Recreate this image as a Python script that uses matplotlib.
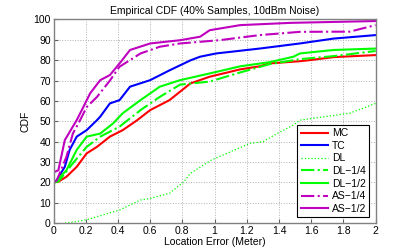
import matplotlib
matplotlib.use("Agg")
import matplotlib.pyplot as plt

plt.rcParams['font.family'] = ['Liberation Sans', 'DejaVu Sans']

# (x in meters, y in percent)
mc_x = [0, 0.03, 0.08, 0.144, 0.206, 0.27, 0.35, 0.43, 0.52, 0.6, 0.72, 0.85, 0.97, 1.16, 1.28, 1.34, 1.53, 1.59, 1.74, 2.0]
mc_y = [20, 20.4, 22.8, 27.7, 34.3, 37.5, 42.5, 45.7, 50.6, 55.5, 60.4, 68.6, 71.9, 75.5, 77, 78.4, 79.5, 80, 81.5, 82.5]

tc_x = [0, 0.02, 0.07, 0.1, 0.144, 0.206, 0.27, 0.29, 0.35, 0.41, 0.475, 0.6, 0.72, 0.85, 0.91, 1.01, 1.28, 1.53, 1.74, 2.0]
tc_y = [20, 21.2, 27.7, 36, 42.5, 45.7, 50.6, 52.3, 58.8, 60.4, 67, 70.2, 75, 79.9, 81.7, 83.3, 85.7, 88.2, 90.6, 92.3]

dl_x = [0.07, 0.2, 0.41, 0.54, 0.6, 0.72, 0.81, 0.85, 0.98, 1.1, 1.22, 1.3, 1.39, 1.49, 1.53, 1.84, 2.0]
dl_y = [0, 1.6, 6.5, 11.4, 12.2, 14.7, 20.4, 24.5, 31, 35.1, 39.2, 40, 44.1, 48.2, 50.6, 54, 58.8]

dl14_x = [0, 0.03, 0.12, 0.206, 0.29, 0.41, 0.54, 0.66, 0.786, 0.97, 1.16, 1.34, 1.53, 1.74, 2.0]
dl14_y = [20, 20.5, 29.4, 37.5, 42.5, 47.4, 55.5, 62, 68, 69.5, 74, 78, 80.5, 82, 84.5]

dl12_x = [0, 0.02, 0.08, 0.144, 0.206, 0.29, 0.37, 0.43, 0.54, 0.66, 0.786, 0.97, 1.16, 1.34, 1.49, 1.53, 1.74, 2.0]
dl12_y = [20, 21, 26, 36, 42.5, 44, 49, 54, 60.4, 67, 70.2, 73.5, 77, 79, 81.7, 83.3, 85, 85.7]

as14_x = [0, 0.02, 0.08, 0.12, 0.165, 0.206, 0.27, 0.35, 0.41, 0.54, 0.66, 0.786, 1.03, 1.28, 1.53, 1.84, 2.0]
as14_y = [20, 21, 32.6, 44, 50.6, 57, 62, 70, 76.8, 83.3, 86.6, 88.2, 89.8, 92.3, 93.9, 94, 97.2]

as12_x = [0, 0, 0.03, 0.07, 0.144, 0.185, 0.227, 0.29, 0.35, 0.41, 0.475, 0.6, 0.786, 0.91, 0.97, 1.16, 1.47, 2.0]
as12_y = [0, 25, 26, 40.8, 50.6, 57, 63.7, 70.2, 72.7, 78.4, 85, 88.2, 89.8, 91.5, 94.7, 97.2, 98.3, 99.2]

magenta = (0.75, 0, 0.75)
lw = 1.5

fig = plt.figure(figsize=(4.15, 2.52), dpi=100)
ax = fig.add_axes([0.129, 0.114, 0.776, 0.809])

ax.plot(mc_x, mc_y, color='red', lw=lw, label='MC')
ax.plot(tc_x, tc_y, color='blue', lw=lw, label='TC')
ax.plot(dl_x, dl_y, color='#00ff00', lw=0.9, ls=':', label='DL')
ax.plot(dl14_x, dl14_y, color='#00ff00', lw=lw, ls='-.', label='DL\u22121/4')
ax.plot(dl12_x, dl12_y, color='#00ff00', lw=lw, label='DL\u22121/2')
ax.plot(as14_x, as14_y, color=magenta, lw=lw, ls='-.', label='AS\u22121/4')
ax.plot(as12_x, as12_y, color=magenta, lw=lw, label='AS\u22121/2')

ax.set_xlim(0, 2)
ax.set_ylim(0, 100)
ax.set_xticks([0, 0.2, 0.4, 0.6, 0.8, 1, 1.2, 1.4, 1.6, 1.8, 2])
ax.set_xticklabels(['0', '0.2', '0.4', '0.6', '0.8', '1', '1.2', '1.4', '1.6', '1.8', '2'])
ax.set_yticks(range(0, 101, 10))
ax.grid(True, ls=':', color='#b0b0b0', lw=0.7)
ax.tick_params(direction='in', labelsize=7.5, length=3, color='#606060', pad=2)
for s in ax.spines.values():
    s.set_color('#808080')
    s.set_linewidth(1.0)

ax.set_xlabel('Location Error (Meter)', fontsize=7.5, labelpad=1)
ax.set_ylabel('CDF', fontsize=7.5, labelpad=2)
ax.set_title('Empirical CDF (40% Samples, 10dBm Noise)', fontsize=7.5, pad=4)

leg = ax.legend(loc='lower right', fontsize=7.5, fancybox=False, framealpha=1,
                edgecolor='black', handlelength=2.6, borderpad=0.3,
                labelspacing=0.25, handletextpad=0.4, borderaxespad=0.6)
leg.get_frame().set_linewidth(0.8)

fig.savefig('out.png', dpi=100)
